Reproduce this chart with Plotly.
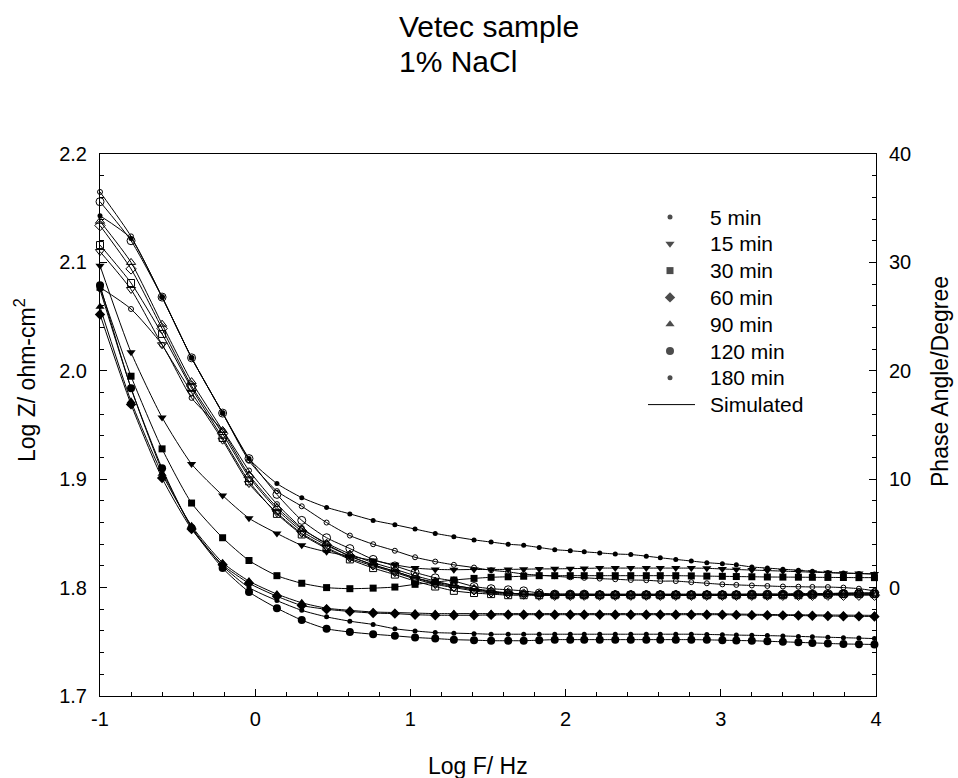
import plotly.graph_objects as go

# ---------------- data ----------------
LOGF = [-1.0, -0.8, -0.6, -0.41, -0.21, -0.04, 0.14, 0.30, 0.46, 0.61, 0.76,
        0.90, 1.03, 1.16, 1.28, 1.41, 1.52, 1.63, 1.73, 1.83, 1.93,
        2.03, 2.12, 2.22, 2.32, 2.42, 2.52, 2.61, 2.71, 2.81, 2.91,
        3.01, 3.10, 3.20, 3.30, 3.40, 3.50, 3.59, 3.69, 3.79, 3.89,
        3.99]

# Log Z (ohm-cm2), left axis
Z_5 = [2.143, 2.122, 2.068, 2.012, 1.961, 1.919, 1.896, 1.883, 1.874, 1.868, 1.862,
       1.858, 1.854, 1.850, 1.847, 1.844, 1.842, 1.840, 1.839, 1.837, 1.835,
       1.834, 1.833, 1.832, 1.831, 1.8305, 1.829, 1.8275, 1.826, 1.8245, 1.823,
       1.822, 1.821, 1.819, 1.818, 1.817, 1.816, 1.815, 1.814, 1.8135, 1.813,
       1.8125]
Z_15 = [2.097, 2.017, 1.957, 1.914, 1.885, 1.864, 1.850, 1.839, 1.833, 1.829, 1.825,
        1.821, 1.818, 1.8168, 1.8165, 1.8167, 1.8167, 1.8168, 1.817, 1.8172, 1.8173,
        1.8175, 1.8177, 1.818, 1.818, 1.818, 1.818, 1.818, 1.818, 1.818, 1.8178,
        1.8172, 1.8167, 1.8162, 1.8157, 1.8152, 1.8147, 1.8142, 1.8137, 1.8133, 1.813,
        1.8126]
Z_30 = [2.077, 1.995, 1.928, 1.878, 1.846, 1.825, 1.811, 1.804, 1.800, 1.799, 1.7995,
        1.8005, 1.803, 1.805, 1.807, 1.8085, 1.8095, 1.810, 1.8105, 1.811, 1.811,
        1.811, 1.811, 1.811, 1.811, 1.811, 1.811, 1.811, 1.811, 1.8108, 1.8106,
        1.8104, 1.8102, 1.810, 1.8098, 1.8097, 1.8096, 1.8095, 1.8094, 1.8093, 1.8092,
        1.8092]
Z_60 = [2.052, 1.969, 1.901, 1.854, 1.821, 1.804, 1.792, 1.7835, 1.780, 1.778, 1.7765,
        1.776, 1.775, 1.7745, 1.7745, 1.7745, 1.7748, 1.775, 1.775, 1.775, 1.775,
        1.775, 1.775, 1.775, 1.775, 1.775, 1.775, 1.775, 1.775, 1.775, 1.775,
        1.775, 1.7748, 1.7746, 1.7745, 1.7744, 1.7742, 1.774, 1.7738, 1.7736, 1.7735,
        1.7734]
Z_90 = [2.059, 1.972, 1.905, 1.857, 1.823, 1.806, 1.794, 1.786, 1.781, 1.779, 1.7775,
        1.777, 1.7765, 1.776, 1.776, 1.776, 1.776, 1.776, 1.776, 1.776, 1.776,
        1.776, 1.776, 1.776, 1.776, 1.776, 1.776, 1.776, 1.776, 1.776, 1.776,
        1.7758, 1.7756, 1.7754, 1.7752, 1.775, 1.7749, 1.7748, 1.7747, 1.7746, 1.7745,
        1.7744]
Z_120 = [2.079, 1.984, 1.910, 1.855, 1.818, 1.796, 1.781, 1.770, 1.762, 1.759, 1.757,
         1.7555, 1.754, 1.753, 1.752, 1.7515, 1.751, 1.751, 1.751, 1.7515, 1.752,
         1.752, 1.752, 1.752, 1.752, 1.752, 1.752, 1.752, 1.752, 1.752, 1.7518,
         1.7515, 1.7512, 1.751, 1.7505, 1.750, 1.7495, 1.749, 1.7485, 1.748, 1.7478,
         1.7475]
Z_180 = [2.075, 1.984, 1.908, 1.856, 1.820, 1.800, 1.788, 1.779, 1.773, 1.769, 1.766,
         1.762, 1.760, 1.7585, 1.758, 1.7575, 1.757, 1.757, 1.757, 1.757, 1.757,
         1.757, 1.757, 1.757, 1.757, 1.757, 1.757, 1.757, 1.757, 1.757, 1.7568,
         1.7565, 1.7562, 1.756, 1.7557, 1.7554, 1.755, 1.7546, 1.7542, 1.7538, 1.7534,
         1.753]

# Phase angle (degree), right axis
P_5 = [36.5, 32.4, 26.8, 21.2, 16.1, 11.7, 8.9, 7.5, 6.0, 4.8, 4.0,
       3.4, 2.8, 2.4, 2.1, 1.85, 1.6, 1.45, 1.25, 1.15, 1.05,
       0.95, 0.9, 0.83, 0.77, 0.7, 0.68, 0.6, 0.6, 0.5, 0.4,
       0.3, 0.25, 0.2, 0.15, 0.1, 0.08, 0.06, 0.05, 0.0, -0.1,
       -0.3]
P_15 = [31.0, 27.5, 22.4, 18.0, 13.6, 9.6, 6.9, 5.0, 3.7, 2.7, 2.0,
        1.4, 0.8, 0.3, 0.0, -0.3, -0.5, -0.6, -0.6, -0.7, -0.7,
        -0.7, -0.7, -0.7, -0.7, -0.7, -0.7, -0.7, -0.7, -0.7, -0.7,
        -0.7, -0.7, -0.7, -0.7, -0.65, -0.65, -0.65, -0.6, -0.6, -0.6,
        -0.6]
P_30 = [31.6, 28.1, 23.4, 18.4, 13.8, 9.8, 6.8, 4.9, 3.6, 2.6, 1.8,
        1.2, 0.6, 0.1, -0.3, -0.5, -0.6, -0.7, -0.7, -0.7, -0.7,
        -0.7, -0.7, -0.7, -0.7, -0.7, -0.7, -0.7, -0.7, -0.7, -0.7,
        -0.7, -0.7, -0.7, -0.7, -0.7, -0.7, -0.65, -0.65, -0.6, -0.6,
        -0.6]
P_60 = [33.4, 29.4, 23.9, 18.6, 14.2, 10.2, 7.2, 5.2, 3.9, 2.9, 2.1,
        1.5, 0.9, 0.4, 0.1, -0.2, -0.4, -0.5, -0.6, -0.7, -0.7,
        -0.7, -0.7, -0.7, -0.7, -0.7, -0.7, -0.7, -0.7, -0.7, -0.7,
        -0.7, -0.7, -0.7, -0.7, -0.7, -0.7, -0.7, -0.7, -0.7, -0.7,
        -0.7]
P_90 = [33.8, 30.0, 24.3, 19.0, 14.5, 10.4, 7.4, 5.4, 4.1, 3.1, 2.3,
        1.7, 1.1, 0.6, 0.2, -0.1, -0.3, -0.5, -0.6, -0.6, -0.7,
        -0.7, -0.7, -0.7, -0.7, -0.7, -0.7, -0.7, -0.7, -0.7, -0.7,
        -0.7, -0.7, -0.7, -0.7, -0.7, -0.65, -0.65, -0.65, -0.6, -0.6,
        -0.6]
P_120 = [35.6, 32.0, 26.8, 21.2, 16.1, 11.9, 8.6, 6.2, 4.6, 3.6, 2.6,
         2.0, 1.4, 0.9, 0.6, 0.1, -0.1, -0.2, -0.3, -0.5, -0.6,
         -0.6, -0.6, -0.65, -0.65, -0.65, -0.65, -0.65, -0.65, -0.65, -0.65,
         -0.65, -0.65, -0.6, -0.6, -0.6, -0.6, -0.6, -0.55, -0.55, -0.5,
         -0.5]
P_180 = [27.7, 25.7, 22.4, 17.5, 14.5, 10.8, 7.7, 5.5, 4.0, 2.9, 2.1,
         1.5, 0.9, 0.5, 0.2, -0.1, -0.4, -0.5, -0.6, -0.6, -0.6,
         -0.6, -0.6, -0.6, -0.6, -0.6, -0.6, -0.6, -0.6, -0.6, -0.6,
         -0.6, -0.6, -0.6, -0.6, -0.6, -0.55, -0.55, -0.55, -0.5, -0.5,
         -0.5]

TIMES = ["5 min", "15 min", "30 min", "60 min", "90 min", "120 min", "180 min"]
LOGZ = [Z_5, Z_15, Z_30, Z_60, Z_90, Z_120, Z_180]
PHASE = [P_5, P_15, P_30, P_60, P_90, P_120, P_180]

X_TICKS = [-1, 0, 1, 2, 3, 4]
X_TICKTEXT = ["-1", "0", "1", "2", "3", "4"]
Y_TICKS = [1.7, 1.8, 1.9, 2.0, 2.1, 2.2]
Y2_TICKS = [0, 10, 20, 30, 40]

TITLE_LINES = ["Vetec sample", "1% NaCl"]

# ---------------- styling ----------------
SYMBOLS = ["circle", "triangle-down", "square", "diamond", "triangle-up", "circle", "circle"]
SIZES = [5, 8, 7, 8, 8, 8, 5]
FONT = "Liberation Sans, Arial, Helvetica, sans-serif"
W, H = 958, 778
L, R, T, B = 100, 82, 154, 82
PW, PH = W - L - R, H - T - B


def px_x(p):
    return (p - L) / PW


def px_y(p):
    return (H - B - p) / PH


fig = go.Figure()
line_style = dict(color="black", width=1, shape="spline", smoothing=0.6)

for name, z, sym, sz in zip(TIMES, LOGZ, SYMBOLS, SIZES):
    fig.add_trace(go.Scatter(
        x=LOGF, y=z, mode="lines+markers", name=name, showlegend=False,
        line=line_style, cliponaxis=False,
        marker=dict(symbol=sym, size=sz, color="black", line=dict(width=0)),
        xaxis="x", yaxis="y"))

for name, p, sym, sz in zip(TIMES, PHASE, SYMBOLS, SIZES):
    fig.add_trace(go.Scatter(
        x=LOGF, y=p, mode="lines+markers", name=name + " phase", showlegend=False,
        line=line_style, cliponaxis=False,
        marker=dict(symbol=sym + "-open", size=sz, color="black",
                    line=dict(width=1, color="black")),
        xaxis="x", yaxis="y2"))

# ---------------- legend (drawn on a hidden pixel-space overlay) ----------------
LEG_X_MARK = 670
LEG_X_TEXT = 708
LEG_Y0 = 217
LEG_DY = 26.8
leg_y = [LEG_Y0 + i * LEG_DY for i in range(len(TIMES))]
fig.add_trace(go.Scatter(
    x=[LEG_X_MARK] * len(TIMES), y=leg_y, mode="markers", showlegend=False,
    marker=dict(symbol=SYMBOLS, size=SIZES, color="black", line=dict(width=0)),
    xaxis="x3", yaxis="y3", cliponaxis=False, hoverinfo="skip"))
sim_y = LEG_Y0 + len(TIMES) * LEG_DY
fig.add_trace(go.Scatter(
    x=[648, 695], y=[sim_y, sim_y], mode="lines", showlegend=False,
    line=dict(color="black", width=1), xaxis="x3", yaxis="y3",
    cliponaxis=False, hoverinfo="skip"))
annotations = []
for lbl, yy in zip(TIMES + ["Simulated"], leg_y + [sim_y]):
    annotations.append(dict(x=LEG_X_TEXT, y=yy, xref="x3", yref="y3", text=lbl,
                            showarrow=False, xanchor="left", yanchor="middle",
                            font=dict(family=FONT, size=21, color="black")))

# chart title (two left-aligned lines)
for txt, yc in zip(TITLE_LINES, [27, 61]):
    annotations.append(dict(x=px_x(397), y=px_y(yc), xref="paper", yref="paper",
                            text=txt, showarrow=False, xanchor="left", yanchor="middle",
                            font=dict(family=FONT, size=30, color="black")))

# axis titles
annotations.append(dict(x=px_x(478), y=px_y(766), xref="paper", yref="paper",
                        text="Log F/ Hz", showarrow=False, xanchor="center", yanchor="middle",
                        font=dict(family=FONT, size=23, color="black")))
annotations.append(dict(x=px_x(25), y=px_y(380), xref="paper", yref="paper",
                        text="Log Z/ ohm-cm<sup>2</sup>", showarrow=False, textangle=-90,
                        xanchor="center", yanchor="middle",
                        font=dict(family=FONT, size=23, color="black")))
annotations.append(dict(x=px_x(940), y=px_y(382), xref="paper", yref="paper",
                        text="Phase Angle/Degree", showarrow=False, textangle=-90,
                        xanchor="center", yanchor="middle",
                        font=dict(family=FONT, size=23, color="black")))

axis_common = dict(showgrid=False, zeroline=False, showline=True, linecolor="black",
                   linewidth=1, ticks="inside", ticklen=7, tickwidth=1, tickcolor="black",
                   tickfont=dict(family=FONT, size=20, color="black"))

fig.update_layout(
    width=W, height=H,
    margin=dict(l=L, r=R, t=T, b=B, pad=0),
    paper_bgcolor="white", plot_bgcolor="white",
    showlegend=False,
    xaxis=dict(range=[-1, 4], tickvals=X_TICKS, ticktext=X_TICKTEXT, mirror=True,
               ticklabelstandoff=5,
               minor=dict(dtick=0.2, ticklen=4, ticks="inside", tickcolor="black"),
               **axis_common),
    yaxis=dict(range=[1.7, 2.2], tickvals=Y_TICKS, tickformat=".1f",
               ticklabelstandoff=8,
               minor=dict(dtick=0.02, ticklen=4, ticks="inside", tickcolor="black"),
               **axis_common),
    yaxis2=dict(range=[-10, 40], tickvals=Y2_TICKS, overlaying="y", side="right",
                ticklabelstandoff=8,
                minor=dict(dtick=2, ticklen=4, ticks="inside", tickcolor="black"),
                **axis_common),
    xaxis3=dict(range=[L, W - R], overlaying="x", visible=False, anchor="y3", fixedrange=True),
    yaxis3=dict(range=[H - B, T], overlaying="y", visible=False, anchor="x3", fixedrange=True),
    annotations=annotations,
)

fig.write_html("out.html")
